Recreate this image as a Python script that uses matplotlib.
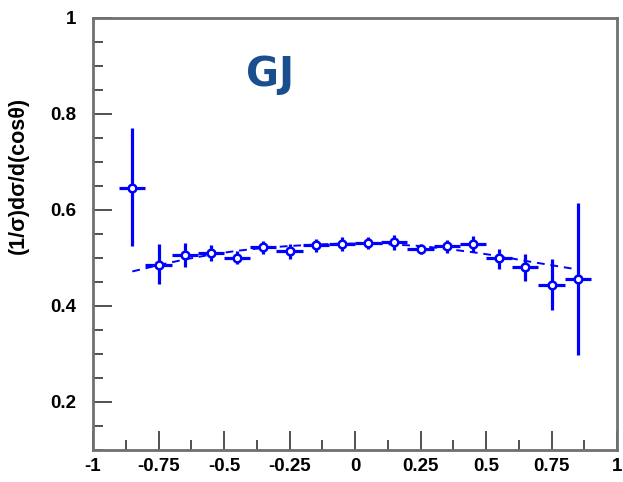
import matplotlib
matplotlib.use("Agg")
import matplotlib.pyplot as plt
from matplotlib.ticker import MultipleLocator, FixedLocator

# ---- data ----
x_centers = [-0.85, -0.75, -0.65, -0.55, -0.45, -0.35, -0.25, -0.15, -0.05,
             0.05, 0.15, 0.25, 0.35, 0.45, 0.55, 0.65, 0.75, 0.85]
y_values = [0.645, 0.486, 0.506, 0.510, 0.501, 0.523, 0.515, 0.527, 0.530,
            0.532, 0.533, 0.519, 0.524, 0.530, 0.499, 0.481, 0.444, 0.456]
y_err_up = [0.125, 0.043, 0.025, 0.017, 0.013, 0.013, 0.014, 0.012, 0.014,
            0.012, 0.015, 0.010, 0.013, 0.016, 0.020, 0.027, 0.053, 0.158]
y_err_dn = [0.120, 0.040, 0.024, 0.016, 0.013, 0.014, 0.017, 0.014, 0.015,
            0.013, 0.016, 0.011, 0.014, 0.017, 0.022, 0.029, 0.053, 0.159]
x_halfwidth = [0.05] * 18

fit_x = x_centers
fit_y = [0.472, 0.485, 0.497, 0.507, 0.515, 0.521, 0.525, 0.528, 0.530,
         0.530, 0.528, 0.525, 0.519, 0.512, 0.504, 0.494, 0.485, 0.476]

x_ticks = [-1, -0.75, -0.5, -0.25, 0, 0.25, 0.5, 0.75, 1]
x_ticklabels = ["-1", "-0.75", "-0.5", "-0.25", "0", "0.25", "0.5", "0.75", "1"]
y_ticks = [0.2, 0.4, 0.6, 0.8, 1.0]
y_ticklabels = ["0.2", "0.4", "0.6", "0.8", "1"]

plt.rcParams['font.family'] = ['Liberation Sans', 'DejaVu Sans']

fig = plt.figure(figsize=(6.23, 4.82), dpi=100)
ax = fig.add_axes([93/623, 32/482, (617-93)/623, (450-18)/482])

blue = "#0000ff"
ax.plot(fit_x, fit_y, ls=(0, (4, 3)), color=blue, lw=1.4, zorder=2)
ax.errorbar(x_centers, y_values, xerr=x_halfwidth, yerr=[y_err_dn, y_err_up],
            fmt='o', color=blue, ecolor=blue, elinewidth=2.3, capsize=0,
            markersize=5.5, markerfacecolor='white', markeredgecolor=blue,
            markeredgewidth=1.8, zorder=3)

ax.set_xlim(-1, 1)
ax.set_ylim(0.1, 1.0)

ax.xaxis.set_major_locator(FixedLocator(x_ticks))
ax.set_xticklabels(x_ticklabels)
ax.xaxis.set_minor_locator(MultipleLocator(0.125))
ax.yaxis.set_major_locator(FixedLocator(y_ticks))
ax.set_yticklabels(y_ticklabels)
ax.yaxis.set_minor_locator(MultipleLocator(0.05))

ax.tick_params(which='major', direction='in', length=14, width=1.2,
               color='#333333', labelsize=13.5, top=False, right=False)
ax.tick_params(which='minor', direction='in', length=7, width=1.2,
               color='#333333', top=False, right=False)
ax.tick_params(axis='x', which='major', pad=6)
ax.tick_params(axis='y', which='major', pad=12)
for lab in ax.get_xticklabels() + ax.get_yticklabels():
    lab.set_fontweight('bold')

for sp in ax.spines.values():
    sp.set_color('#707070')
    sp.set_linewidth(2)

fig.text(18/623, 1 - 175/482, "(1/σ)dσ/d(cosθ)", rotation=90,
         ha='center', va='center', fontsize=15.5, fontweight='bold')

ax.text(-0.324, 0.881, "GJ", color="#1a4f8f", fontsize=29, fontweight='bold',
        ha='center', va='center', family=['DejaVu Sans'])

fig.savefig("out.png", dpi=100)
